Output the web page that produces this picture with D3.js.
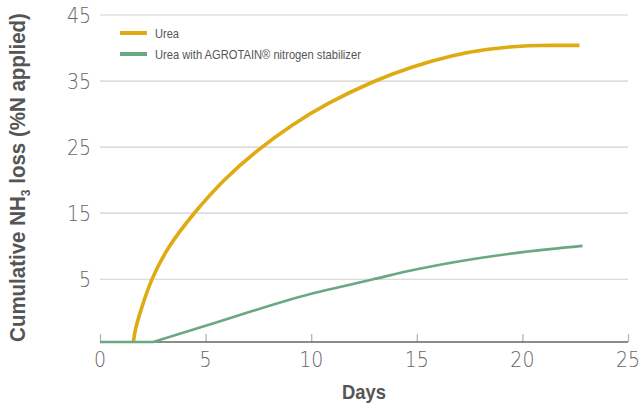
<!DOCTYPE html>
<html>
<head>
<meta charset="utf-8">
<script src="https://cdn.jsdelivr.net/npm/d3@7"></script>
<style>
  body { margin: 0; background: #fff; }
  svg { display: block; }
  text { font-family: "Liberation Sans", Arial, sans-serif; }
</style>
</head>
<body>
<div id="chart"></div>
<script>
// values (axis units; the plot floor sits at -4.5)
const yFloor = -4.5;
const seriesNames = ["Urea", "Urea with AGROTAIN® nitrogen stabilizer"];
const ureaDays = [0, 1.58, 1.66, 1.89, 2.41, 3.23, 4.46, 5.88, 7.5, 9.15, 10.73, 12.94, 14.68, 16.73, 18.3, 19.89, 20.68, 22.7];
const ureaLoss = [-4.5, -4.5, -2.65, -0.1, 5, 10, 15.1, 20.2, 24.7, 28.5, 31.6, 35, 37.1, 38.95, 39.86, 40.3, 40.4, 40.4];
const agroDays = [0, 2.52, 5, 10, 12.94, 15, 20, 22.85];
const agroLoss = [-4.5, -4.5, -2.05, 2.8, 5, 6.5, 9.1, 10.05];
const xTicks = [0, 5, 10, 15, 20, 25];
const yTicks = [5, 15, 25, 35, 45];
const colors = ["#dfab12", "#6aa884"];

const width = 644, height = 410;
const margin = { top: 15, right: 16, bottom: 68, left: 100 };

const svg = d3.select("#chart").append("svg")
	.attr("width", width)
	.attr("height", height);

const x = d3.scaleLinear().domain([0, 25]).range([margin.left, width - margin.right]);
const y = d3.scaleLinear().domain([yFloor, 45]).range([height - margin.bottom, margin.top]);

// squeeze a text horizontally (condensed look) around its anchor
function squeeze(sel, sx, rot = 0) {
	sel.each(function(d, i) {
		const t = d3.select(this);
		const tx = +t.attr("x") || 0, ty = +t.attr("y") || 0;
		const k = typeof sx === "function" ? sx.call(this, d, i) : sx;
		t.attr("x", 0).attr("y", 0)
			.attr("transform", `translate(${tx},${ty}) rotate(${rot}) scale(${k},1)`);
	});
}
// scale to a wanted width in px
const fitTo = w => function() { return w / this.getComputedTextLength(); };

// gridlines
svg.append("g")
	.selectAll("line")
	.data(yTicks)
	.join("line")
		.attr("x1", x(0))
		.attr("x2", x(25))
		.attr("y1", d => y(d))
		.attr("y2", d => y(d))
		.attr("stroke", "#cfcfcf")
		.attr("stroke-width", 1.2);

// y tick labels
svg.append("g")
	.selectAll("text")
	.data(yTicks)
	.join("text")
		.attr("x", x(0) - 9)
		.attr("y", d => y(d) + 8)
		.attr("text-anchor", "end")
		.style("font-family", "'DejaVu Sans', sans-serif")
		.style("font-size", "22px")
		.style("font-weight", 200)
		.attr("fill", "#666")
		.text(d => d)
		.call(squeeze, 0.86);

// x axis
const xAxis = svg.append("g")
	.attr("transform", `translate(0,${y(yFloor)})`)
	.call(d3.axisTop(x).tickValues(xTicks).tickSize(8).tickFormat(""));
xAxis.select(".domain").remove();
xAxis.selectAll(".tick line").attr("stroke", "#b5b5b5").attr("stroke-width", 1.3);

// lines: flat part on the floor drawn straight, rising part smoothed
function split(days, loss) {
	const pts = d3.zip(days, loss);
	const k = d3.max(pts.map((p, i) => p[1] <= yFloor ? i : -1));
	return [pts.slice(0, k + 1), pts.slice(k)];
}
const flat = d3.line().x(d => x(d[0])).y(d => y(d[1]));
const smooth = d3.line().x(d => x(d[0])).y(d => y(d[1])).curve(d3.curveBasis);
const smoothG = d3.line().x(d => x(d[0])).y(d => y(d[1])).curve(d3.curveMonotoneX);

const [uFlat, uRise] = split(ureaDays, ureaLoss);
const [aFlat, aRise] = split(agroDays, agroLoss);

svg.append("path")
	.attr("fill", "none")
	.attr("stroke", colors[0])
	.attr("stroke-width", 3.6)
	.attr("d", smooth(uRise));

svg.append("line")
	.attr("x1", x(0)).attr("x2", x(25))
	.attr("y1", y(yFloor)).attr("y2", y(yFloor))
	.attr("stroke", "#666").attr("stroke-width", 1.3);

svg.append("path")
	.attr("fill", "none")
	.attr("stroke", colors[1])
	.attr("stroke-width", 2.6)
	.attr("d", flat(aFlat) + smoothG(aRise).replace(/^M[^LC]*/, "L" + x(aRise[0][0]) + "," + y(aRise[0][1])));

svg.append("g")
	.selectAll("text")
	.data(xTicks)
	.join("text")
		.attr("x", d => x(d))
		.attr("y", y(yFloor) + 25)
		.attr("text-anchor", "middle")
		.style("font-family", "'DejaVu Sans', sans-serif")
		.style("font-size", "22px")
		.style("font-weight", 200)
		.attr("fill", "#666")
		.text(d => d)
		.call(squeeze, 0.86);

// axis titles
svg.append("text")
	.attr("x", x(12.5))
	.attr("y", 399)
	.attr("text-anchor", "middle")
	.style("font-size", "20px")
	.style("font-weight", "bold")
	.attr("fill", "#555")
	.text("Days")
	.call(squeeze, fitTo(44));

const yTitle = svg.append("text")
	.attr("x", 25)
	.attr("y", 177.5)
	.attr("text-anchor", "middle")
	.style("font-size", "22px")
	.style("font-weight", "bold")
	.attr("fill", "#555");
yTitle.append("tspan").text("Cumulative NH");
yTitle.append("tspan").attr("dy", 5).style("font-size", "13px").text("3");
yTitle.append("tspan").attr("dy", -5).text(" loss (%N applied)");
yTitle.call(squeeze, fitTo(329), -90);

// legend
const legend = svg.append("g")
	.selectAll("g")
	.data(seriesNames)
	.join("g")
		.attr("transform", (d, i) => `translate(120,${33 + i * 21})`);
legend.append("line")
	.attr("x1", 0).attr("x2", 27)
	.attr("stroke", (d, i) => colors[i])
	.attr("stroke-width", 4);
const legendWidths = [24, 206];
legend.append("text")
	.attr("x", 35)
	.attr("y", 4.5)
	.style("font-size", "13px")
	.attr("fill", "#555")
	.text(d => d)
	.call(squeeze, function(d, i) { return legendWidths[i] / this.getComputedTextLength(); });
</script>
</body>
</html>
